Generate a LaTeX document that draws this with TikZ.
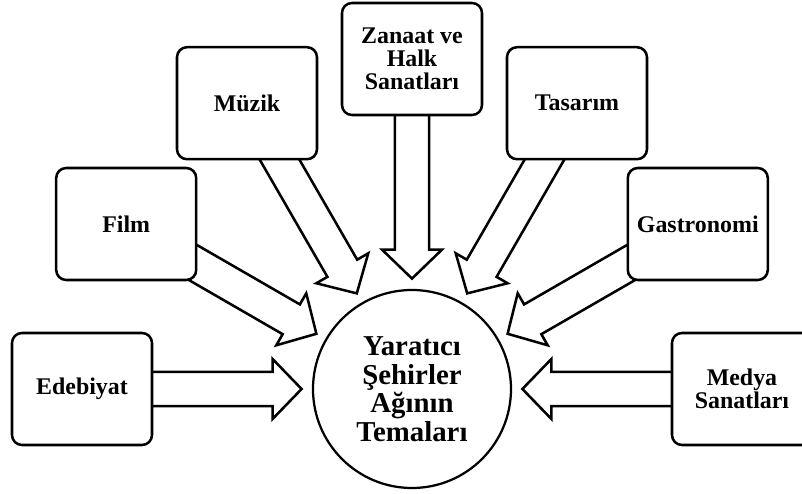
\documentclass[tikz,border=0pt]{standalone}
\usepackage{fontspec}
\setmainfont{Liberation Serif}
\usetikzlibrary{calc,backgrounds}

\tikzset{
  kutu/.style={draw, line width=1.8pt, rounded corners=0.25cm, fill=white,
    minimum width=3.5cm, minimum height=2.8cm, align=center, inner sep=2pt,
    font=\fontsize{17}{16.5}\selectfont\bfseries},
  tema/.style={draw, circle, line width=1.6pt, minimum size=4.95cm, align=center,
    font=\fontsize{20.5}{20.3}\selectfont\bfseries},
  okblok/.style={draw, line width=1.8pt, fill=white, line join=miter}
}

\begin{document}
\begin{tikzpicture}[x=1cm,y=1cm]
    \useasboundingbox (-10.3,-2.625) rectangle (9.75,9.725);
    \node[tema] (tema) at (0,0) {Yaratıcı\\Şehirler\\Ağının\\Temaları};
    \node[kutu] (edebiyat) at (180 : 8.25) {Edebiyat};
    \node[kutu] (film) at (150 : 8.25) {Film};
    \node[kutu] (muzik) at (120 : 8.25) {Müzik};
    \node[kutu] (zanaat) at (90 : 8.25) {Zanaat ve\\Halk\\Sanatları};
    \node[kutu] (tasarim) at (60 : 8.25) {Tasarım};
    \node[kutu] (gastronomi) at (30 : 8.25) {Gastronomi};
    \node[kutu] (medya) at (0 : 8.25) {Medya\\Sanatları};

    \begin{scope}[on background layer]
    \foreach \k in {edebiyat, film, muzik, zanaat, tasarim, gastronomi, medya}{
        \coordinate (uc) at ($(tema.center)!2.76cm!(\k.center)$);
        \coordinate (dip) at ($(tema.center)!3.485cm!(\k.center)$);
        \draw[okblok] ($(\k.center)!0.43cm!90:(uc)$) -- ($(dip)!0.43cm!90:(uc)$)
            -- ($(dip)!0.75cm!90:(uc)$) -- (uc) -- ($(dip)!0.75cm!-90:(uc)$)
            -- ($(dip)!0.43cm!-90:(uc)$) -- ($(\k.center)!0.43cm!-90:(uc)$) -- cycle;
    }
    \end{scope}
\end{tikzpicture}
\end{document}
